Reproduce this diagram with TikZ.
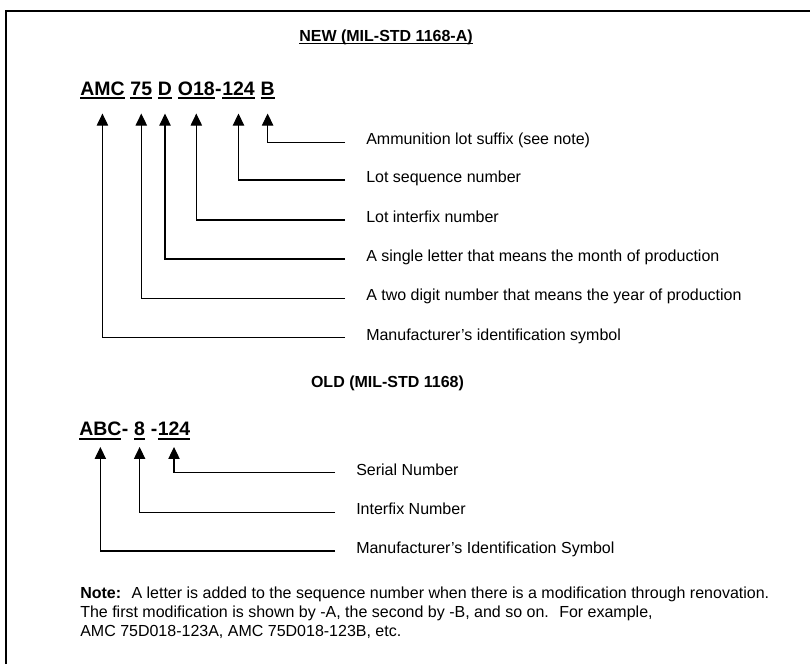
\documentclass[tikz,border=0pt]{standalone}
\usepackage{fontspec}
\setmainfont{Liberation Sans}
\usepackage{tikz}
\usetikzlibrary{arrows.meta, positioning}

\newcommand{\undr}[1]{\setbox0=\hbox{#1}\rlap{\rule[-3pt]{\wd0}{1.5pt}}\box0}
\newcommand{\undrs}[1]{\setbox0=\hbox{#1}\rlap{\rule[-2.4pt]{\wd0}{1.1pt}}\box0}

\begin{document}
\begin{tikzpicture}[
    x=0.75pt, y=-0.75pt,
    code/.style={inner sep=0pt, font=\fontsize{14.6}{16}\selectfont\bfseries},
    head/.style={inner sep=0pt, anchor=base, font=\fontsize{12}{14}\selectfont\bfseries},
    lab/.style={anchor=west, inner sep=0pt, text height=4pt, text depth=0pt, font=\fontsize{12}{14}\selectfont},
    arr/.style={-{Triangle[length=9pt, width=8.5pt]}, line width=0.8pt, shorten <=15.75pt},
    frame/.style={line width=1.5pt}
]
\useasboundingbox (0,0) rectangle (810,664);
\draw[frame] (5.5,664) -- (5.5,10.5) -- (810,10.5);

% new marking
\node[head] (newt) at (386,41) {\undrs{NEW (MIL-STD 1168-A)}};
\node[code, anchor=base west] (mfr) at (80,95) {\undr{AMC}};
\node[code, base right=4.0pt of mfr] (yr)  {\undr{75}};
\node[code, base right=4.0pt of yr]  (mon) {\undr{D}};
\node[code, base right=4.0pt of mon] (ifx) {\undr{O18}};
\node[code, base right=0pt of ifx]   (dash) {-};
\node[code, base right=0pt of dash]  (seq) {\undr{124}};
\node[code, base right=4.0pt of seq] (sfx) {\undr{B}};

\node[lab] (lsfx) at (366,142.3) {Ammunition lot suffix (see note)};
\node[lab] (lseq) at (366,180)   {Lot sequence number};
\node[lab] (lifx) at (366,220)   {Lot interfix number};
\node[lab] (lmon) at (366,259)   {A single letter that means the month of production};
\node[lab] (lyr)  at (366,298.3) {A two digit number that means the year of production};
\node[lab] (lmfr) at (366,337.7) {Manufacturer’s identification symbol};

\draw[arr, shorten >=10.7pt] (lsfx.west) -| (sfx.south);
\draw[arr, shorten >=10.7pt] (lseq.west) -| (seq.south);
\draw[arr, shorten >=10.7pt] (lifx.west) -| (ifx.south);
\draw[arr, shorten >=10.7pt] (lmon.west) -| (mon.south);
\draw[arr, shorten >=10.7pt] (lyr.west)  -| (yr.south);
\draw[arr, shorten >=10.7pt] (lmfr.west) -| (mfr.south);

% old marking
\node[head] (oldt) at (387.5,387.3) {OLD (MIL-STD 1168)};
\node[code, anchor=base west] (omfr) at (79,435.7) {\undr{ABC}};
\node[code, base right=0pt of omfr]   (odash) {-};
\node[code, base right=3.9pt of odash] (oifx) {\undr{8}};
\node[code, base right=3.9pt of oifx]  (odashb) {-};
\node[code, base right=0pt of odashb] (oser) {\undr{124}};

\node[lab] (loser) at (356,472.7) {Serial Number};
\node[lab] (loifx) at (356,512.3) {Interfix Number};
\node[lab] (lomfr) at (356,551)   {Manufacturer’s Identification Symbol};

\draw[arr, shorten >=5.25pt] (loser.west) -| (oser.south);
\draw[arr, shorten >=5.25pt] (loifx.west) -| (oifx.south);
\draw[arr, shorten >=5.25pt] (lomfr.west) -| (omfr.south);

\node[anchor=north west, inner sep=0pt, align=left, font=\fontsize{12}{14.3}\selectfont] (note) at (80,586.5)
  {\textbf{Note:}~ A letter is added to the sequence number when there is a modification through renovation.\\
   The first modification is shown by -A, the second by -B, and so on.~ For example,\\
   AMC 75D018-123A, AMC 75D018-123B, etc.};
\end{tikzpicture}
\end{document}
